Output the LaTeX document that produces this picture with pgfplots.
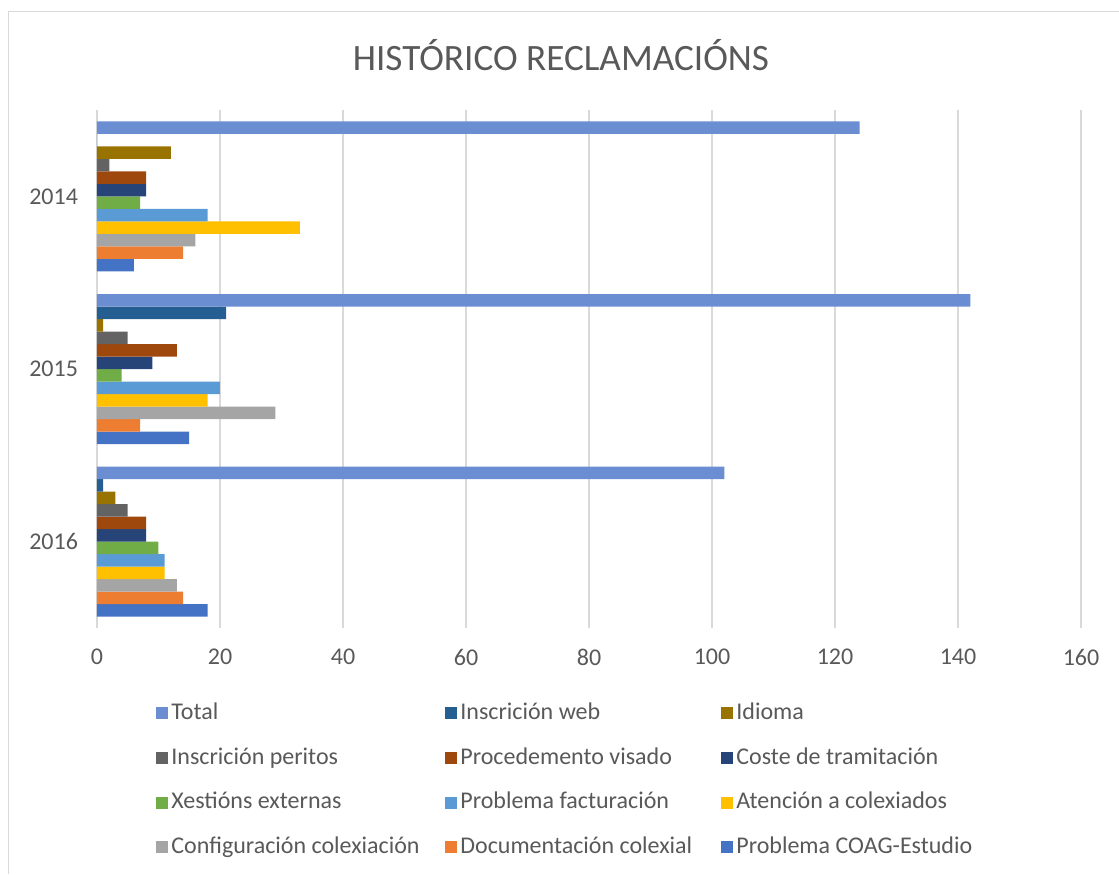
\documentclass[border=0pt]{standalone}
\usepackage{pgfplots}
\pgfplotsset{compat=1.18}
\usepackage{pgfplotstable}
\usepackage{fontspec}
\setmainfont{Carlito}
\definecolor{txt}{HTML}{595959}
\definecolor{grd}{HTML}{D9D9D9}
\definecolor{cTotal}{HTML}{6A8ED1}
\definecolor{cWeb}{HTML}{255E91}
\definecolor{cIdioma}{HTML}{997300}
\definecolor{cPeritos}{HTML}{636363}
\definecolor{cVisado}{HTML}{9E480E}
\definecolor{cCoste}{HTML}{264478}
\definecolor{cXest}{HTML}{70AD47}
\definecolor{cFact}{HTML}{5B9BD5}
\definecolor{cAten}{HTML}{FFC000}
\definecolor{cConf}{HTML}{A5A5A5}
\definecolor{cDoc}{HTML}{ED7D31}
\definecolor{cCoag}{HTML}{4472C4}
\pgfplotstableread{
y total web idioma peritos visado coste xest fact aten conf doc coag
0 124 0 12 2 8 8 7 18 33 16 14 6
1 142 21 1 5 13 9 4 20 18 29 7 15
2 102 1 3 5 8 8 10 11 11 13 14 18
}\data
\newcommand{\lgA}[1]{\makebox[135.5pt][l]{#1}}
\newcommand{\lgB}[1]{\makebox[129pt][l]{#1}}
\newcommand{\lgC}[1]{\makebox[120pt][l]{#1}}
\begin{document}
\begin{tikzpicture}
\useasboundingbox (-48.5pt,-123pt) rectangle (511pt,314pt);
\draw[grd, line width=0.75pt] (-44.25pt,-123pt) -- (-44.25pt,308.25pt) -- (511pt,308.25pt);
\node[text=txt, font=\fontsize{18.6pt}{22pt}\selectfont] at (232pt,286.5pt) {HISTÓRICO RECLAMACIÓNS};
\begin{axis}[
  at={(0pt,0pt)}, anchor=south west,
  scale only axis, width=492pt, height=259pt,
  xbar=0pt, bar width=6.25pt,
  xmin=0, xmax=160, ymin=-0.5, ymax=2.5,
  y dir=reverse,
  axis line style={draw=none},
  xmajorgrids, grid style={grd, line width=0.75pt},
  xtick={0,20,...,160},
  ytick={0,1,2}, yticklabels={2014,2015,2016},
  major tick length=0pt,
  /pgf/number format/assume math mode=true,
  tick label style={text=txt, font=\fontsize{12pt}{14pt}\selectfont},
  xticklabel style={yshift=-7pt},
  yticklabel style={xshift=-6pt},
  every axis plot/.append style={draw=none},
  legend columns=3,
  reverse legend,
  legend style={at={(0,0)}, anchor=north west, xshift=29.5pt, yshift=-37pt,
    draw=none, inner sep=0pt, column sep=0pt, row sep=11.3pt,
    font=\fontsize{12pt}{14pt}\selectfont, text=txt,
    nodes={inner xsep=1.5pt, inner ysep=0pt, text height=8.5pt, text depth=2.5pt}},
  legend cell align=left,
  legend image code/.code={\fill[#1] (0pt,-3pt) rectangle (6pt,3pt);},
]
\addplot[fill=cCoag] table[x=coag,y=y]{\data};
\addplot[fill=cDoc] table[x=doc,y=y]{\data};
\addplot[fill=cConf] table[x=conf,y=y]{\data};
\addplot[fill=cAten] table[x=aten,y=y]{\data};
\addplot[fill=cFact] table[x=fact,y=y]{\data};
\addplot[fill=cXest] table[x=xest,y=y]{\data};
\addplot[fill=cCoste] table[x=coste,y=y]{\data};
\addplot[fill=cVisado] table[x=visado,y=y]{\data};
\addplot[fill=cPeritos] table[x=peritos,y=y]{\data};
\addplot[fill=cIdioma] table[x=idioma,y=y]{\data};
\addplot[fill=cWeb] table[x=web,y=y]{\data};
\addplot[fill=cTotal] table[x=total,y=y]{\data};
\legend{\lgC{Problema COAG-Estudio},\lgB{Documentación colexial},\lgA{Configuración colexiación},\lgC{Atención a colexiados},\lgB{Problema facturación},\lgA{Xestións externas},\lgC{Coste de tramitación},\lgB{Procedemento visado},\lgA{Inscrición peritos},\lgC{Idioma},\lgB{Inscrición web},\lgA{Total}}
\end{axis}
\end{tikzpicture}
\end{document}
